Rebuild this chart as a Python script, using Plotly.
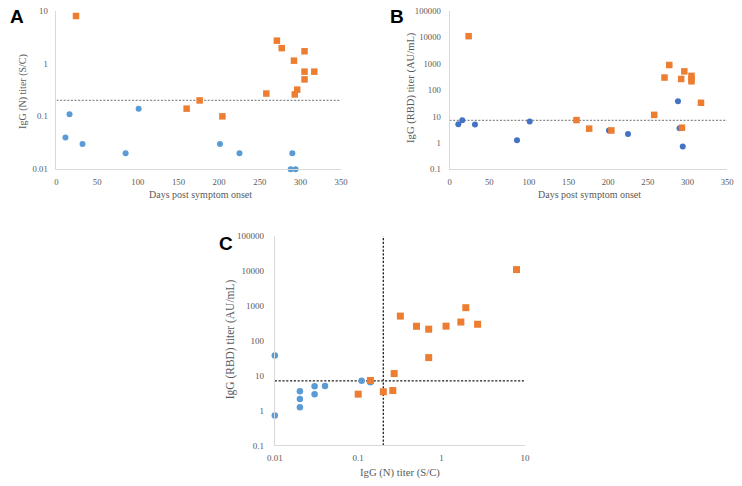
"""
Three-panel antibody titer figure: IgG (N) and IgG (RBD) over days post symptom onset,
and the N vs RBD comparison. Values read off the published figure.
"""
import plotly.graph_objects as go


# seronegative-by-N group (blue circles)
neg_days = [11, 16, 32, 85, 101, 201, 225, 290, 288, 294]
neg_n_titer = [0.04, 0.11, 0.03, 0.02, 0.14, 0.03, 0.02, 0.02, 0.01, 0.01]
neg_rbd_titer = [5.1, 7.2, 5.0, 1.25, 6.5, 2.95, 2.15, 3.55, 38, 0.72]

# orange squares
pos_days = [24, 160, 176, 204, 258, 271, 277, 292, 305, 305, 317, 305, 296, 293]
pos_n_titer = [7.9, 0.14, 0.2, 0.1, 0.27, 2.7, 1.95, 1.13, 1.7, 0.7, 0.7, 0.5, 0.32, 0.26]
pos_rbd_titer = [11000, 7.3, 3.45, 2.95, 11.5, 298, 890, 263, 345, 215, 33, 261, 510, 3.75]

N_CUTOFF = 0.2
RBD_CUTOFF = 7.1

day_ticks = [0, 50, 100, 150, 200, 250, 300, 350]
n_ticks = [0.01, 0.1, 1, 10]
n_tick_text = ["0.01", "0.1", "1", "10"]
rbd_ticks = [0.1, 1, 10, 100, 1000, 10000, 100000]
rbd_tick_text = ["0.1", "1", "10", "100", "1000", "10000", "100000"]

ORANGE = "#ED7D31"
BLUE = "#5B9BD5"
BLUE_DARK = "#4472C4"
GRAY_TXT = "#595959"
SERIF = "Liberation Serif, Times New Roman, serif"

W, H = 742, 486


def px_x(p):
    return p / W


def px_y(p):
    return 1 - p / H


def points(x, y, color, symbol, size, xa, ya):
    return go.Scatter(
        x=x, y=y, mode="markers", xaxis=xa, yaxis=ya,
        marker=dict(color=color, symbol=symbol, size=size, line=dict(width=0)),
        cliponaxis=False, showlegend=False, hoverinfo="x+y",
    )


def cutoff(x, y, xa, ya, color, dash):
    return go.Scatter(
        x=x, y=y, mode="lines", xaxis=xa, yaxis=ya,
        line=dict(color=color, width=1.3, dash=dash),
        showlegend=False, hoverinfo="skip",
    )


fig = go.Figure()

# panel A
fig.add_trace(cutoff([day_ticks[0], day_ticks[-1]], [N_CUTOFF, N_CUTOFF], "x", "y", "#8C8C8C", "2px,1.6px"))
fig.add_trace(points(neg_days, neg_n_titer, BLUE, "circle", 6, "x", "y"))
fig.add_trace(points(pos_days, pos_n_titer, ORANGE, "square", 6.5, "x", "y"))

# panel B
fig.add_trace(cutoff([day_ticks[0], day_ticks[-1]], [RBD_CUTOFF, RBD_CUTOFF], "x2", "y2", "#8C8C8C", "2px,1.6px"))
fig.add_trace(points(neg_days, neg_rbd_titer, BLUE_DARK, "circle", 6, "x2", "y2"))
fig.add_trace(points(pos_days, pos_rbd_titer, ORANGE, "square", 6.5, "x2", "y2"))

# panel C
fig.add_trace(cutoff([n_ticks[0], n_ticks[-1]], [RBD_CUTOFF, RBD_CUTOFF], "x3", "y3", "#222222", "2.2px,1.6px"))
fig.add_trace(cutoff([N_CUTOFF, N_CUTOFF], [rbd_ticks[0], rbd_ticks[-1]], "x3", "y3", "#222222", "2.2px,1.6px"))
fig.add_trace(points(neg_n_titer, neg_rbd_titer, BLUE, "circle", 6.5, "x3", "y3"))
fig.add_trace(points(pos_n_titer, pos_rbd_titer, ORANGE, "square", 7, "x3", "y3"))


def axis_style(size, **kw):
    d = dict(
        showgrid=False, zeroline=False, showline=True, linecolor="#D9D9D9", linewidth=1,
        ticks="outside", ticklen=4, tickcolor="rgba(0,0,0,0)",
        tickfont=dict(family=SERIF, size=size, color=GRAY_TXT),
        fixedrange=True,
    )
    d.update(kw)
    return d


fig.update_layout(
    width=W, height=H,
    margin=dict(l=0, r=0, t=0, b=0),
    paper_bgcolor="white", plot_bgcolor="white",
    xaxis=axis_style(8.7, domain=[px_x(49.5), px_x(340)], range=[0, 350], anchor="y",
                     tickvals=day_ticks),
    yaxis=axis_style(8.7, domain=[px_y(167.7), px_y(5.7)], type="log", range=[-2, 1], anchor="x",
                     tickvals=n_ticks, ticktext=n_tick_text, ticklen=6),
    xaxis2=axis_style(8.7, domain=[px_x(450.7), px_x(734)], range=[0, 350], anchor="y2",
                      tickvals=day_ticks),
    yaxis2=axis_style(8.7, domain=[px_y(167.7), px_y(6)], type="log", range=[-1, 5], anchor="x2",
                      tickvals=rbd_ticks, ticktext=rbd_tick_text, ticklen=6),
    xaxis3=axis_style(9, domain=[px_x(272.3), px_x(527.7)], type="log", range=[-2, 1], anchor="y3",
                      tickvals=n_ticks, ticktext=n_tick_text),
    yaxis3=axis_style(9, domain=[px_y(449.7), px_y(236)], type="log", range=[-1, 5], anchor="x3",
                      tickvals=rbd_ticks, ticktext=rbd_tick_text, ticklen=8),
)

titles = [
    ("Days post symptom onset", 196, 193, 0, 10),
    ("IgG (N) titer (S/C)", 15, 88, -90, 10),
    ("Days post symptom onset", 593, 193, 0, 10),
    ("IgG (RBD) titer (AU/mL)", 412, 84, -90, 10.6),
    ("IgG (N) titer (S/C)", 400, 477, 0, 10.7),
    ("IgG (RBD) titer (AU/mL)", 228, 341, -90, 11.5),
]
for text, x, y, ang, size in titles:
    fig.add_annotation(text=text, x=px_x(x), y=px_y(y), xref="paper", yref="paper",
                       xanchor="center", yanchor="middle", textangle=ang, showarrow=False,
                       font=dict(family=SERIF, size=size, color=GRAY_TXT))

for label, x, y in [("A", 9, 12), ("B", 397, 11.5), ("C", 222, 244)]:
    fig.add_annotation(text="<b>%s</b>" % label, x=px_x(x), y=px_y(y), xref="paper", yref="paper",
                       xanchor="center", yanchor="middle", showarrow=False,
                       font=dict(family="Liberation Sans, Arial, sans-serif", size=19, color="black"))

# browser default body margin would push the figure 8px off the window
fig.write_html("out.html", config={"displayModeBar": False},
               post_script="document.body.style.margin='0';")
